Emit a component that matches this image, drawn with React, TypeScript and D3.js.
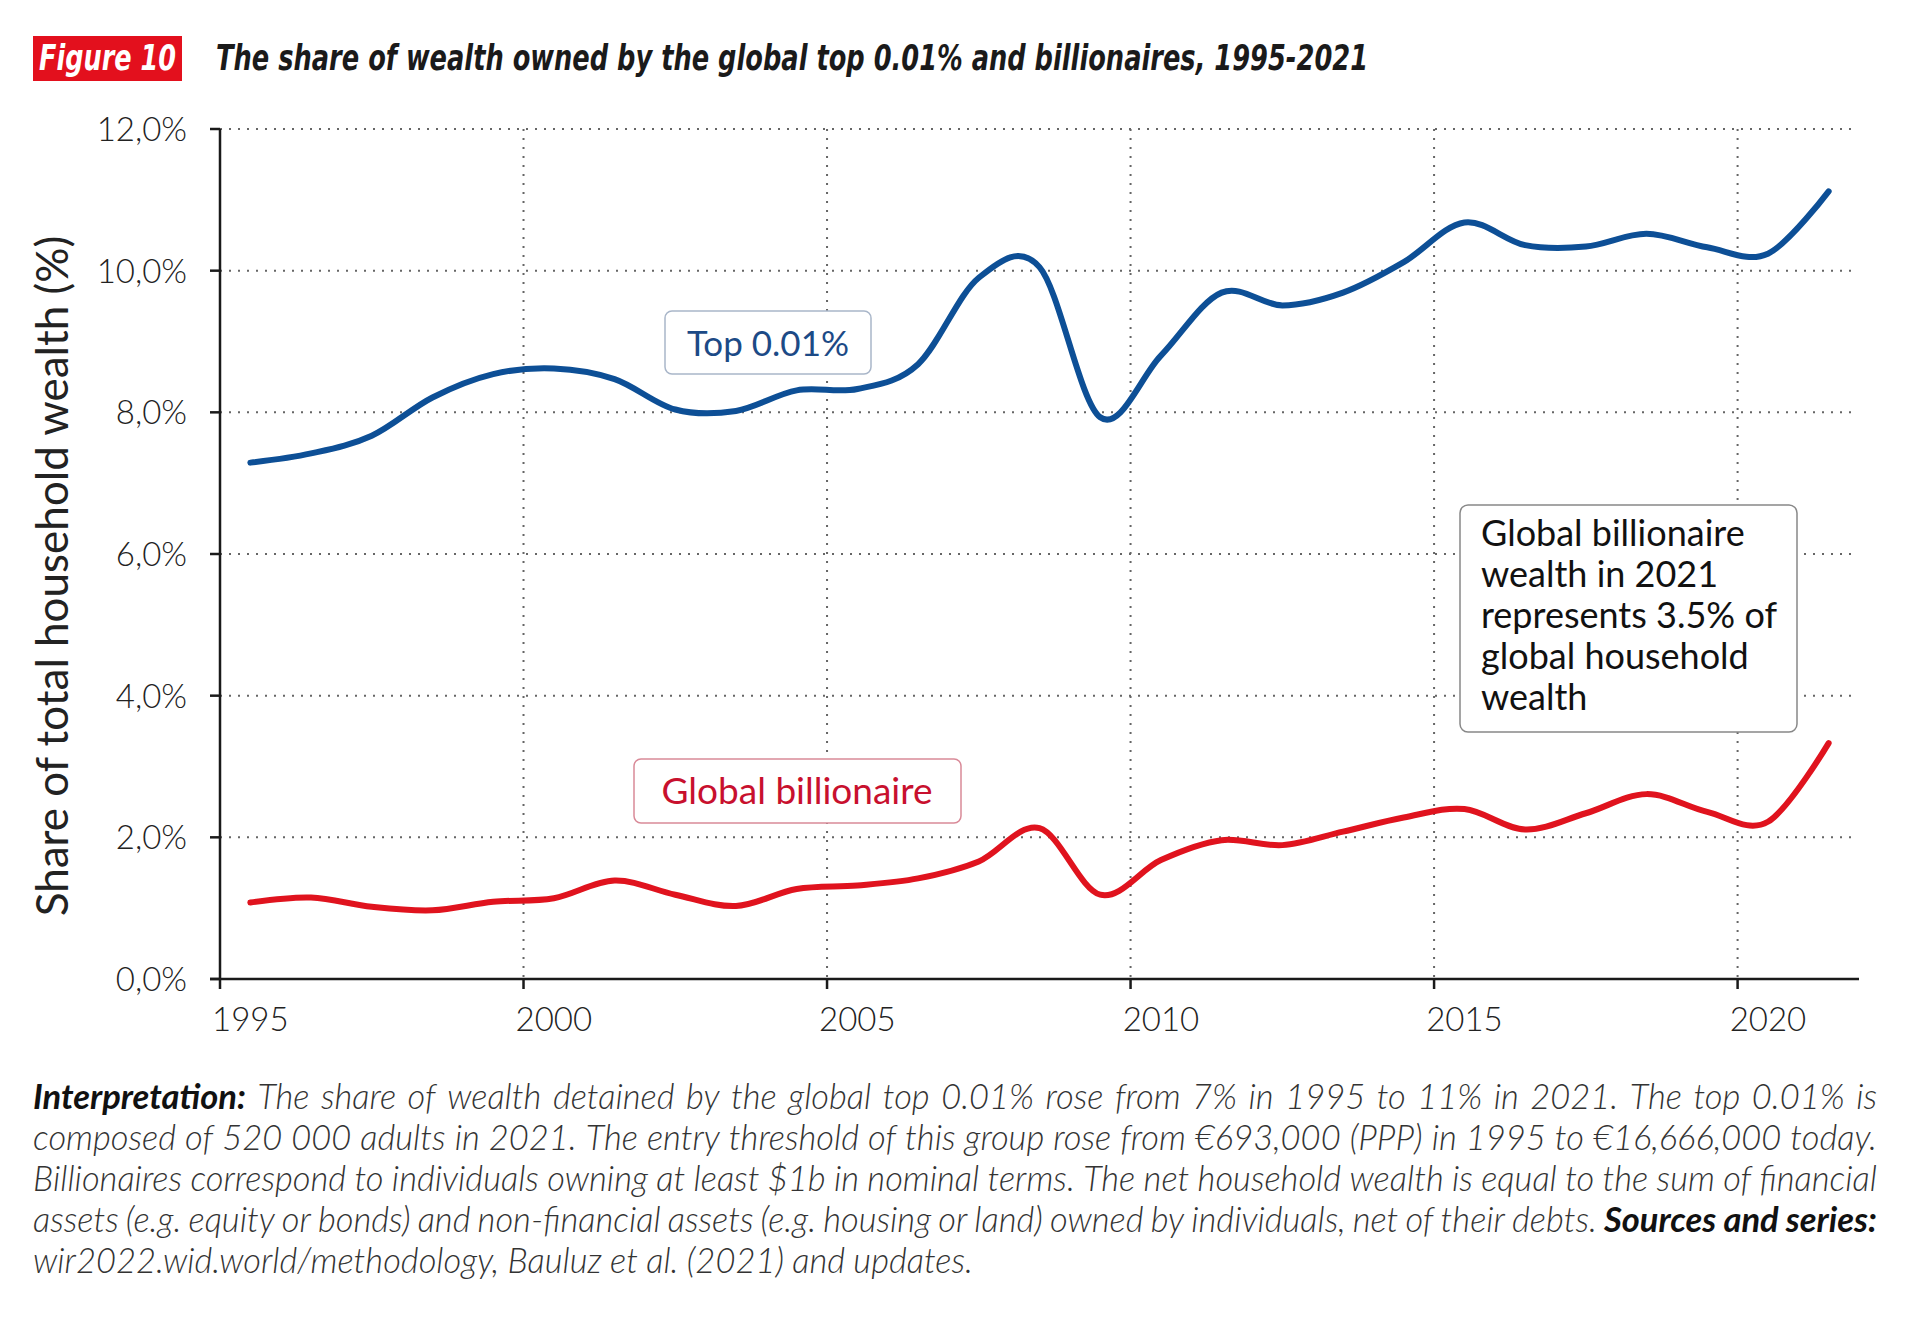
import { useLayoutEffect, useRef, useState } from "react";
import * as d3 from "d3";

const years = d3.range(1995, 2022);

// share of total household wealth, %
const top001 = [
  7.29, 7.42, 7.67, 8.21, 8.54, 8.62, 8.47, 8.04, 8.02, 8.31, 8.33, 8.68, 9.9,
  10.05, 7.93, 8.8, 9.69, 9.51, 9.69, 10.12, 10.68, 10.36, 10.34, 10.52, 10.33,
  10.24, 11.12,
];
const billionaire = [
  1.08, 1.15, 1.02, 0.97, 1.09, 1.14, 1.39, 1.19, 1.03, 1.27, 1.32, 1.42, 1.66,
  2.13, 1.19, 1.68, 1.96, 1.89, 2.08, 2.28, 2.4, 2.11, 2.34, 2.61, 2.36, 2.22,
  3.33,
];

const yTicks = [0, 2, 4, 6, 8, 10, 12];
const xLabelYears = [1995, 2000, 2005, 2010, 2015, 2020];
const xGridYears = [2000, 2005, 2010, 2015, 2020];

const noteLines = [
  "Global billionaire",
  "wealth in 2021",
  "represents 3.5% of",
  "global household",
  "wealth",
];

type Seg = { text: string; bold?: boolean };
const captionLines: Seg[][] = [
  [
    { text: "Interpretation:", bold: true },
    {
      text: "The share of wealth detained by the global top 0.01% rose from 7% in 1995 to 11% in 2021. The top 0.01% is",
    },
  ],
  [
    {
      text: "composed of 520 000 adults in 2021. The entry threshold of this group rose from €693,000 (PPP) in 1995 to €16,666,000 today.",
    },
  ],
  [
    {
      text: "Billionaires correspond to individuals owning at least $1b in nominal terms. The net household wealth is equal to the sum of financial",
    },
  ],
  [
    {
      text: "assets (e.g. equity or bonds) and non-financial assets (e.g. housing or land) owned by individuals, net of their debts.",
    },
    { text: "Sources and series:", bold: true },
  ],
  [{ text: "wir2022.wid.world/methodology, Bauluz et al. (2021) and updates." }],
];

const WIDTH = 1920;
const HEIGHT = 1323;
const LEFT = 220;
const RIGHT = 1859;
const TOP = 129;
const BOTTOM = 979;
const CAPTION_X = 33;
const CAPTION_W = 1844;

const BLUE = "#0d4f96";
const RED = "#e0131e";
const FONT = "Lato, 'Open Sans', sans-serif";
const TITLE_FONT = "'Liberation Sans Narrow', 'DejaVu Sans Condensed', sans-serif";

// one caption line, words spread to the full width when justify is set
const CaptionLine = ({
  y,
  segs,
  justify,
}: {
  y: number;
  segs: Seg[];
  justify: boolean;
}) => {
  const words = segs.flatMap((s) =>
    s.text.split(" ").map((w) => ({ w, bold: !!s.bold }))
  );
  const refs = useRef<(SVGTSpanElement | null)[]>([]);
  const [xs, setXs] = useState<number[] | null>(null);

  useLayoutEffect(() => {
    const measure = () => {
      const widths = refs.current.map((el) => (el ? el.getComputedTextLength() : 0));
      const total = d3.sum(widths);
      const space = 0.24 * 34.5;
      const gap = justify ? (CAPTION_W - total) / (widths.length - 1) : space;
      let cur = CAPTION_X;
      const pos = widths.map((w) => {
        const p = cur;
        cur += w + gap;
        return p;
      });
      setXs(pos);
    };
    measure();
    document.fonts?.ready.then(measure);
  }, [justify]);

  return (
    <text y={y} fontFamily={FONT} fontSize={34.5} fontStyle="italic">
      {words.map((d, i) => (
        <tspan
          key={i}
          ref={(el) => {
            refs.current[i] = el;
          }}
          x={xs ? xs[i] : undefined}
          fontWeight={d.bold ? 700 : 300}
          fill={d.bold ? "#111" : "#333"}
        >
          {d.w}
        </tspan>
      ))}
    </text>
  );
};

export default function App() {
  const x = d3
    .scaleBand<number>()
    .domain(years)
    .range([LEFT, RIGHT])
    .padding(0);
  const cx = (yr: number) => (x(yr) as number) + x.bandwidth() / 2;
  const y = d3.scaleLinear().domain([0, 12]).range([BOTTOM, TOP]);
  const fmt = (v: number) => d3.format(".1f")(v).replace(".", ",") + "%";

  // uniform Catmull-Rom, close to the spreadsheet "smoothed line"
  const line = d3
    .line<number>()
    .x((_, i) => cx(years[i]))
    .y((d) => y(d))
    .curve(d3.curveCardinal.tension(0));

  return (
    <svg
      width={WIDTH}
      height={HEIGHT}
      style={{ position: "absolute", left: 0, top: 0, background: "#fff" }}
    >
      {/* header */}
      <rect x={33} y={36} width={149} height={45} fill="#e3101d" />
      <text
        x={39}
        y={70}
        fontFamily={TITLE_FONT}
        fontWeight={700}
        fontStyle="italic"
        fontSize={35}
        fill="#fff"
        textLength={137}
        lengthAdjust="spacingAndGlyphs"
      >
        Figure 10
      </text>
      <text
        x={216}
        y={70}
        fontFamily={TITLE_FONT}
        fontWeight={700}
        fontStyle="italic"
        fontSize={35}
        fill="#1a1a1a"
        textLength={1152}
        lengthAdjust="spacingAndGlyphs"
      >
        The share of wealth owned by the global top 0.01% and billionaires,
        1995-2021
      </text>

      {/* grid */}
      {yTicks
        .filter((t) => t > 0)
        .map((t) => (
          <line
            key={t}
            x1={LEFT}
            x2={RIGHT - 4}
            y1={y(t)}
            y2={y(t)}
            stroke="#666"
            strokeWidth={2}
            strokeDasharray="2 7"
          />
        ))}
      {xGridYears.map((yr) => (
        <line
          key={yr}
          x1={x(yr)}
          x2={x(yr)}
          y1={TOP}
          y2={BOTTOM}
          stroke="#666"
          strokeWidth={2}
          strokeDasharray="2 7"
        />
      ))}

      {/* axes */}
      <line x1={LEFT} x2={LEFT} y1={TOP} y2={BOTTOM + 10} stroke="#1a1a1a" strokeWidth={2.5} />
      <line x1={LEFT - 10} x2={RIGHT} y1={BOTTOM} y2={BOTTOM} stroke="#1a1a1a" strokeWidth={2.5} />
      {yTicks.map((t) => (
        <g key={t}>
          <line x1={LEFT - 10} x2={LEFT} y1={y(t)} y2={y(t)} stroke="#1a1a1a" strokeWidth={2.5} />
          <text
            x={187}
            y={y(t)}
            dy="0.36em"
            textAnchor="end"
            fontFamily={FONT}
            fontWeight={300}
            fontSize={33}
            fill="#222"
          >
            {fmt(t)}
          </text>
        </g>
      ))}
      {xGridYears.map((yr) => (
        <line
          key={yr}
          x1={x(yr)}
          x2={x(yr)}
          y1={BOTTOM}
          y2={BOTTOM + 10}
          stroke="#1a1a1a"
          strokeWidth={2.5}
        />
      ))}
      {xLabelYears.map((yr) => (
        <text
          key={yr}
          x={cx(yr)}
          y={1031}
          textAnchor="middle"
          fontFamily={FONT}
          fontWeight={300}
          fontSize={33}
          fill="#222"
        >
          {yr}
        </text>
      ))}
      <text
        transform="translate(68,576) rotate(-90)"
        textAnchor="middle"
        fontFamily={FONT}
        fontSize={44}
        fill="#222"
      >
        Share of total household wealth (%)
      </text>

      {/* series */}
      <path d={line(top001) || ""} fill="none" stroke={BLUE} strokeWidth={6} strokeLinecap="round" />
      <path d={line(billionaire) || ""} fill="none" stroke={RED} strokeWidth={6} strokeLinecap="round" />

      {/* labels */}
      <rect x={665} y={311} width={206} height={63} rx={7} fill="#fff" stroke="#a9b6c9" strokeWidth={1.5} />
      <text x={768} y={343} dy="0.36em" textAnchor="middle" fontFamily={FONT} fontSize={35} fill="#1c4a86">
        Top 0.01%
      </text>
      <rect x={634} y={759} width={327} height={64} rx={7} fill="#fff" stroke="#d98a98" strokeWidth={1.5} />
      <text x={797} y={791} dy="0.36em" textAnchor="middle" fontFamily={FONT} fontSize={37} fill="#c8102e">
        Global billionaire
      </text>
      <rect x={1460} y={505} width={337} height={227} rx={8} fill="#fff" stroke="#888" strokeWidth={1.5} />
      {noteLines.map((l, i) => (
        <text key={i} x={1481} y={546 + i * 41} fontFamily={FONT} fontSize={36} fill="#111">
          {l}
        </text>
      ))}

      {/* caption */}
      {captionLines.map((segs, i) => (
        <CaptionLine key={i} y={1109 + i * 41} segs={segs} justify={i < 4} />
      ))}
    </svg>
  );
}
